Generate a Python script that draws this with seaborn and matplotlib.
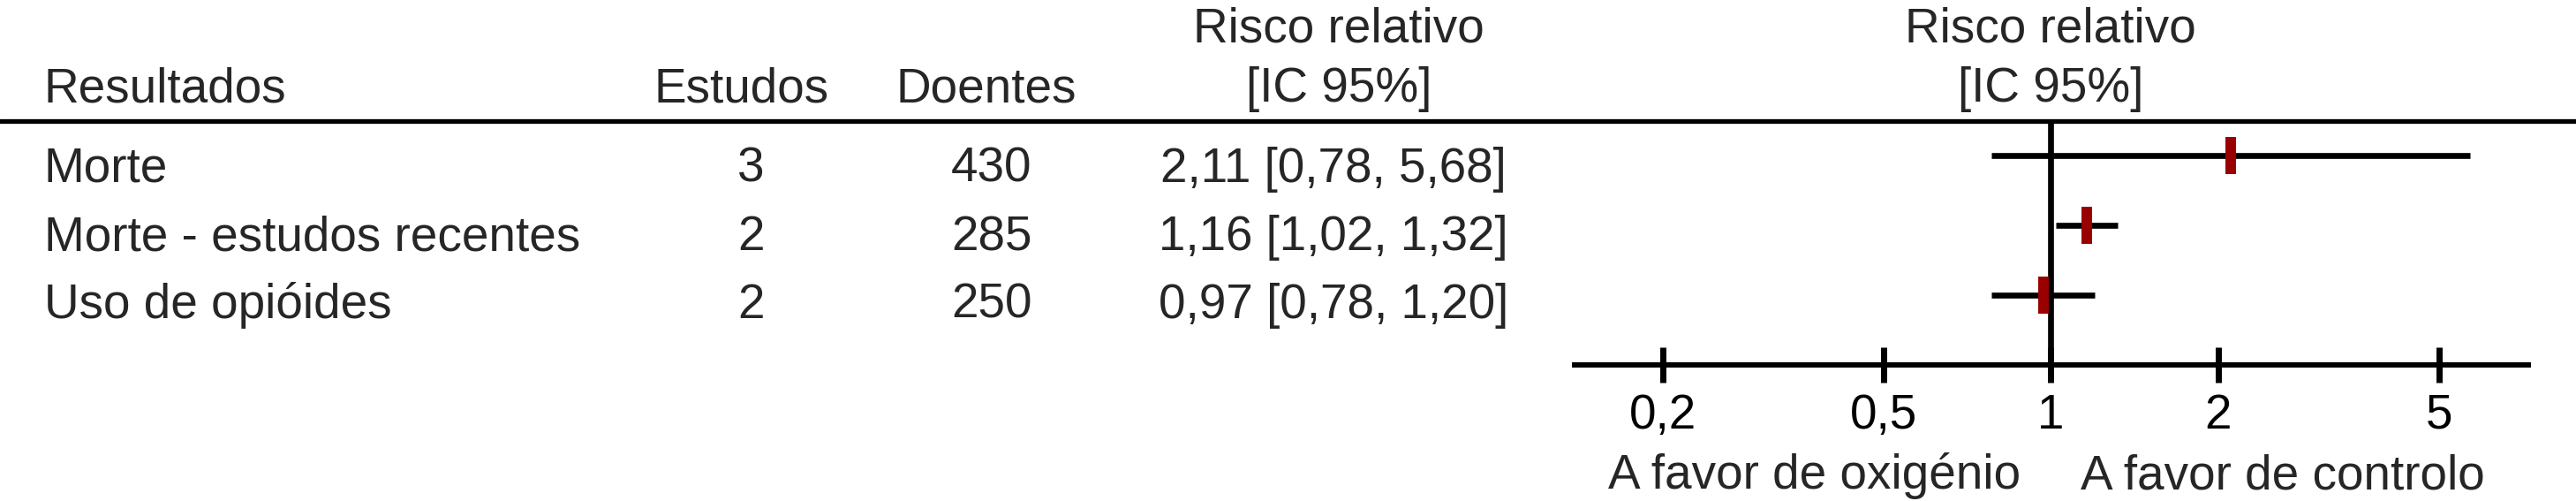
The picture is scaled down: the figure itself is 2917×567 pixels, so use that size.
import numpy as np
import pandas as pd
import matplotlib
matplotlib.use("Agg")
import matplotlib.pyplot as plt
import seaborn as sns

# data
outcomes = ["Morte", "Morte - estudos recentes", "Uso de opióides"]
studies = [3, 2, 2]
patients = [430, 285, 250]
rr = [2.11, 1.16, 0.97]
ci_low = [0.78, 1.02, 0.78]
ci_high = [5.68, 1.32, 1.20]
tick_values = [0.2, 0.5, 1, 2, 5]
tick_labels = ["0,2", "0,5", "1", "2", "5"]

df = pd.DataFrame({"outcome": outcomes, "studies": studies, "patients": patients,
                   "rr": rr, "lo": ci_low, "hi": ci_high})
df["row"] = np.arange(len(df))
df["rr_text"] = [f"{r:.2f} [{l:.2f}, {h:.2f}]".replace(".", ",")
                 for r, l, h in zip(df.rr, df.lo, df.hi)]

sns.set_theme(style="white")
plt.rcParams["font.family"] = ["Liberation Sans", "DejaVu Sans"]

W, H = 2917, 567
fig = plt.figure(figsize=(W / 100, H / 100), dpi=100)
fs = 39.5
lw = 4.8
red = "#990000"

# text layer in pixel coordinates
ax_t = fig.add_axes([0, 0, 1, 1])
ax_t.set_xlim(0, W)
ax_t.set_ylim(H, 0)
ax_t.axis("off")

ax_t.axhline(136.5, color="black", lw=3.8)

ax_t.text(50, 115, "Resultados", fontsize=fs, va="baseline", ha="left")
ax_t.text(840, 115, "Estudos", fontsize=fs, va="baseline", ha="center")
ax_t.text(1117, 115, "Doentes", fontsize=fs, va="baseline", ha="center")
for xc in (1516, 2322):
    ax_t.text(xc, 47, "Risco relativo", fontsize=fs, va="baseline", ha="center")
    ax_t.text(xc, 115, "[IC 95%]", fontsize=fs, va="baseline", ha="center")

for i, r in df.iterrows():
    yb = 206 + 77 * r["row"]
    ax_t.text(50, yb, r["outcome"], fontsize=fs, va="baseline", ha="left")
    ax_t.text(850, yb, str(r["studies"]), fontsize=fs, va="baseline", ha="center")
    ax_t.text(1123, yb, str(r["patients"]), fontsize=fs, va="baseline", ha="center")
    ax_t.text(1510, yb, r["rr_text"], fontsize=fs, va="baseline", ha="center")

ax_t.text(2288, 553, "A favor de oxigénio", fontsize=fs, va="baseline", ha="right")
ax_t.text(2356, 553, "A favor de controlo", fontsize=fs, va="baseline", ha="left")

# forest panel
left, right, top, bottom = 1783, 2863, 137, 413
ax_f = fig.add_axes([left / W, (H - bottom) / H, (right - left) / W, (bottom - top) / H])
ax_f.patch.set_visible(False)
ax_f.set_xscale("log")
ax_f.set_xlim(0.1387, 7.238)
ax_f.set_ylim(2.991, -0.485)

ax_f.axvline(1, color="black", lw=lw, zorder=1)
ax_f.hlines(df.row, df.lo, df.hi, color="black", lw=lw, zorder=2)
sns.scatterplot(data=df, x="rr", y="row", marker="|", s=30 ** 2, linewidth=8.6,
                color=red, ax=ax_f, zorder=3, legend=False)

for s in ["top", "left", "right"]:
    ax_f.spines[s].set_visible(False)
ax_f.spines["bottom"].set_linewidth(4.3)
ax_f.spines["bottom"].set_color("black")
ax_f.set_xticks(tick_values)
ax_f.set_xticklabels(tick_labels)
ax_f.xaxis.set_minor_locator(matplotlib.ticker.NullLocator())
ax_f.tick_params(axis="x", direction="inout", length=29.5, width=5, pad=8,
                 labelsize=fs, colors="black", bottom=True)
ax_f.set_yticks([])
ax_f.set_xlabel("")
ax_f.set_ylabel("")

fig.savefig("out.png", dpi=100)
